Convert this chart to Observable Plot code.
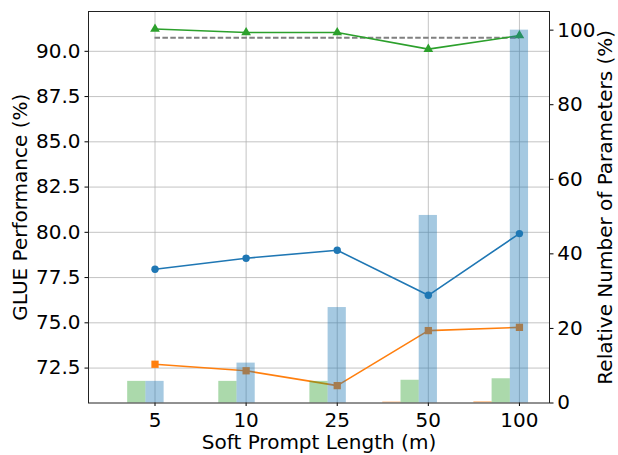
<!DOCTYPE html>
<html><head><meta charset="utf-8">
<script src="https://cdn.jsdelivr.net/npm/d3@7"></script>
<script src="https://cdn.jsdelivr.net/npm/@observablehq/plot@0.6"></script>
<style>
body{margin:0;background:#fff;}
#wrap{position:relative;width:618px;height:455px;}
#wrap svg{position:absolute;left:0;top:0;}
</style></head><body><div id="wrap"></div>
<script>
// ---- data ----
const promptLengths = ["5", "10", "25", "50", "100"];
const glueGreen  = [91.23, 91.04, 91.04, 90.12, 90.87];
const glueBlue   = [77.96, 78.57, 79.01, 76.52, 79.93];
const glueOrange = [72.71, 72.35, 71.53, 74.57, 74.75];
const baselineGlue = 90.75;
const paramsOrange = [0, 0, 0, 0.3, 0.4];
const paramsGreen  = [5.8, 5.8, 5.8, 6.1, 6.5];
const paramsBlue   = [5.8, 10.7, 25.6, 50.3, 100];
const leftTicks  = [72.5, 75.0, 77.5, 80.0, 82.5, 85.0, 87.5, 90.0];
const rightTicks = [0, 20, 40, 60, 80, 100];
const xLabel = "Soft Prompt Length (m)";
const yLeftLabel = "GLUE Performance (%)";
const yRightLabel = "Relative Number of Parameters (%)";

const C = {blue: "#1f77b4", orange: "#ff7f0e", green: "#2ca02c"};
const idx = promptLengths.map((_, i) => i);
const series = vals => vals.map((v, i) => ({i, v}));

const common = {
  width: 618, height: 455,
  marginTop: 11, marginRight: 69, marginBottom: 52.5, marginLeft: 88,
  x: {type: "linear", domain: [-0.73, 4.33], axis: null}
};
const font = {fontFamily: "DejaVu Sans", fontSize: "20px", color: "black", overflow: "visible"};

const p1 = Plot.plot({
  ...common,
  style: {...font, background: "white"},
  y: {domain: [70.57, 92.2], axis: null},
  marks: [
    Plot.gridY(leftTicks, {stroke: "#b0b0b0", strokeOpacity: 0.75, strokeWidth: 1}),
    Plot.gridX(idx, {stroke: "#b0b0b0", strokeOpacity: 0.75, strokeWidth: 1}),
    Plot.ruleY([baselineGlue], {x1: 0, x2: promptLengths.length - 1, stroke: "#808080", strokeWidth: 1.8, strokeDasharray: "5.5,2.4"}),
    Plot.line(series(glueGreen), {x: "i", y: "v", stroke: C.green, strokeWidth: 1.6}),
    Plot.dot(series(glueGreen), {x: "i", y: "v", symbol: "triangle", r: 3.6, fill: C.green}),
    Plot.line(series(glueBlue), {x: "i", y: "v", stroke: C.blue, strokeWidth: 1.6}),
    Plot.dot(series(glueBlue), {x: "i", y: "v", symbol: "circle", r: 3.7, fill: C.blue}),
    Plot.line(series(glueOrange), {x: "i", y: "v", stroke: C.orange, strokeWidth: 1.6}),
    Plot.dot(series(glueOrange), {x: "i", y: "v", symbol: "square", r: 4.1, fill: C.orange}),
    Plot.axisY(leftTicks, {anchor: "left", tickFormat: d => d.toFixed(1), tickSize: 3.5, tickPadding: 4.5, label: null}),
    Plot.axisX(idx, {anchor: "bottom", tickFormat: i => promptLengths[i], tickSize: 3.5, tickPadding: 6.2, label: null}),
    Plot.text([yLeftLabel], {frameAnchor: "left", dx: -68, rotate: -90, text: d => d, lineAnchor: "middle", textAnchor: "middle"}),
    Plot.text([xLabel], {frameAnchor: "bottom", dy: 40, text: d => d, lineAnchor: "middle", textAnchor: "middle"})
  ]
});

const barSpecs = [
  {vals: paramsOrange, off: -0.5, color: C.orange},
  {vals: paramsGreen,  off: -0.3, color: C.green},
  {vals: paramsBlue,   off: -0.1, color: C.blue}
];

const p2 = Plot.plot({
  ...common,
  style: {...font, background: "transparent"},
  y: {domain: [0, 105], axis: null},
  marks: [
    ...barSpecs.map(s => Plot.rect(series(s.vals), {
      x1: d => d.i + s.off, x2: d => d.i + s.off + 0.2, y1: 0, y2: "v",
      fill: s.color, fillOpacity: 0.4
    })),
    Plot.frame({stroke: "#222", strokeWidth: 1}),
    Plot.axisY(rightTicks, {anchor: "right", tickSize: 3.5, tickPadding: 4.2, label: null}),
    Plot.text([yRightLabel], {frameAnchor: "right", dx: 605 - 549, rotate: -90, text: d => d, lineAnchor: "middle", textAnchor: "middle"})
  ]
});

const wrap = document.getElementById("wrap");
wrap.appendChild(p1);
wrap.appendChild(p2);
</script>
</body></html>
